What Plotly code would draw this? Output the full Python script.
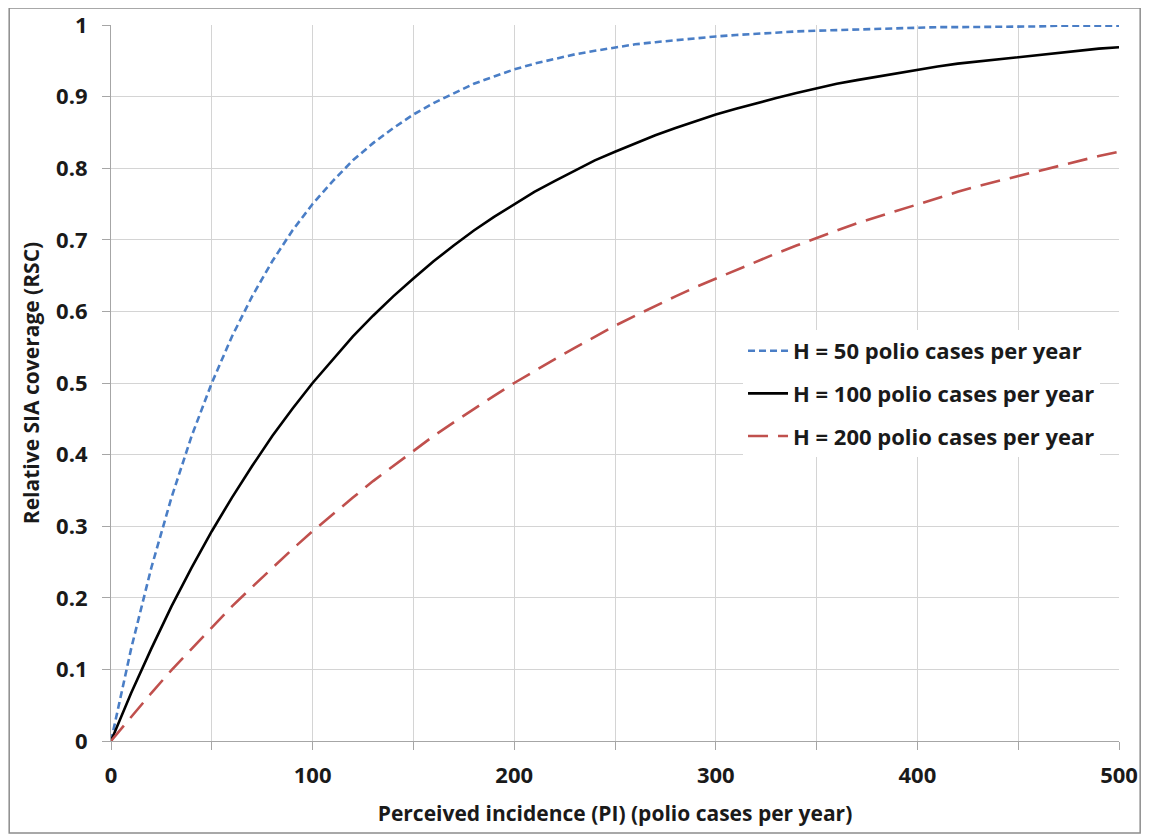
import plotly.graph_objects as go

pi_x = [0, 10, 20, 30, 40, 50, 60, 70, 80, 90, 100, 110, 120, 130, 140, 150, 160, 170, 180, 190,
        200, 210, 220, 230, 240, 250, 260, 270, 280, 290, 300, 310, 320, 330, 340, 350, 360, 370,
        380, 390, 400, 410, 420, 430, 440, 450, 460, 470, 480, 490, 500]

rsc_h50 = [0, 0.129, 0.242, 0.340, 0.426, 0.500, 0.565, 0.621, 0.670, 0.713, 0.750, 0.782, 0.811,
           0.835, 0.856, 0.875, 0.891, 0.905, 0.918, 0.928, 0.938, 0.946, 0.953, 0.959, 0.964,
           0.969, 0.973, 0.976, 0.979, 0.982, 0.984, 0.986, 0.988, 0.990, 0.991, 0.992, 0.993,
           0.994, 0.995, 0.996, 0.996, 0.997, 0.997, 0.997, 0.998, 0.998, 0.998, 0.999, 0.999,
           0.999, 0.999]

rsc_h100 = [0, 0.067, 0.129, 0.188, 0.242, 0.293, 0.340, 0.384, 0.426, 0.464, 0.500, 0.533, 0.565,
            0.594, 0.621, 0.646, 0.670, 0.692, 0.713, 0.732, 0.750, 0.767, 0.782, 0.797, 0.811,
            0.823, 0.835, 0.846, 0.856, 0.866, 0.875, 0.883, 0.891, 0.898, 0.905, 0.912, 0.918,
            0.923, 0.928, 0.933, 0.938, 0.942, 0.946, 0.949, 0.953, 0.956, 0.959, 0.962, 0.964,
            0.967, 0.969]

rsc_h200 = [0, 0.034, 0.067, 0.099, 0.129, 0.159, 0.188, 0.215, 0.242, 0.268, 0.293, 0.317, 0.340,
            0.363, 0.384, 0.405, 0.426, 0.445, 0.464, 0.482, 0.500, 0.517, 0.533, 0.549, 0.565,
            0.580, 0.594, 0.608, 0.621, 0.634, 0.646, 0.658, 0.670, 0.681, 0.692, 0.703, 0.713,
            0.723, 0.732, 0.741, 0.750, 0.759, 0.767, 0.775, 0.782, 0.790, 0.797, 0.804, 0.811,
            0.817, 0.823]

series_names = ["H = 50 polio cases per year",
                "H = 100 polio cases per year",
                "H = 200 polio cases per year"]

x_tickvals = [0, 50, 100, 150, 200, 250, 300, 350, 400, 450, 500]
x_ticktext = ["0", "", "100", "", "200", "", "300", "", "400", "", "500"]
y_tickvals = [0, 0.1, 0.2, 0.3, 0.4, 0.5, 0.6, 0.7, 0.8, 0.9, 1]
y_ticktext = ["0", "0.1", "0.2", "0.3", "0.4", "0.5", "0.6", "0.7", "0.8", "0.9", "1"]

FONT = "'Open Sans', Lato, sans-serif"
TXT = "#1a1a1a"

fig = go.Figure()
fig.add_trace(go.Scatter(x=pi_x, y=rsc_h50, mode="lines", name=series_names[0], legendgroup="a",
                         line=dict(color="#4A7EC6", width=2.6, dash="7px,4px")))
fig.add_trace(go.Scatter(x=pi_x, y=rsc_h100, mode="lines", name=series_names[1], legendgroup="b",
                         line=dict(color="#000000", width=2.6)))
fig.add_trace(go.Scatter(x=pi_x, y=rsc_h200, mode="lines", name=series_names[2], legendgroup="c",
                         line=dict(color="#C0504D", width=2.6, dash="20px,10px")))

axis_common = dict(showgrid=True, gridcolor="#D4D4D4", gridwidth=1.2,
                   showline=True, linecolor="#A6A6A6", linewidth=1.2,
                   ticks="outside", tickcolor="#A6A6A6", ticklen=8, tickwidth=1.2,
                   zeroline=False, automargin=False,
                   tickfont=dict(family=FONT, size=22, color=TXT, weight="bold"))

fig.update_xaxes(range=[0, 500], tickmode="array", tickvals=x_tickvals, ticktext=x_ticktext,
                 ticklabelstandoff=6,
                 title=dict(text="Perceived incidence (PI) (polio cases per year)",
                            font=dict(family=FONT, size=21, color=TXT, weight="bold"),
                            standoff=18),
                 **axis_common)
fig.update_yaxes(range=[0, 1], tickmode="array", tickvals=y_tickvals, ticktext=y_ticktext,
                 ticklabelstandoff=10,
                 title=dict(text="Relative SIA coverage (RSC)",
                            font=dict(family=FONT, size=21, color=TXT, weight="bold"),
                            standoff=10),
                 **axis_common)

fig.update_layout(
    width=1153, height=836,
    margin=dict(l=103, r=42, t=17, b=103),
    paper_bgcolor="white", plot_bgcolor="white",
    showlegend=True,
    legend=dict(x=0.627, y=0.574, xanchor="left", yanchor="top",
                bgcolor="white", borderwidth=0, tracegroupgap=11, itemwidth=40,
                font=dict(family=FONT, size=22, color=TXT, weight="bold")),
    shapes=[dict(type="rect", xref="paper", yref="paper",
                 x0=-0.101, x1=1.021, y0=-0.1285, y1=1.0237,
                 line=dict(color="#8C8C8C", width=1.5), layer="below")],
)

fig.write_html("out.html")
